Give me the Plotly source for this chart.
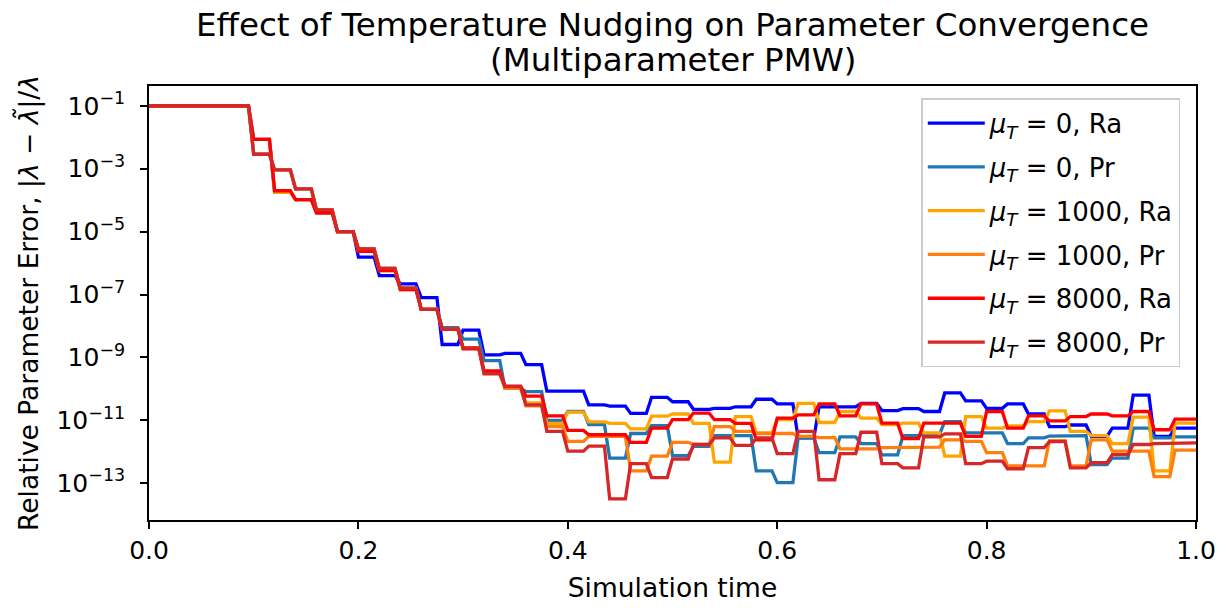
import numpy as np
import plotly.graph_objects as go

# ---- data (log10 of relative parameter error, one value per update window) ----
initial_log10 = -1.0
update_start = 0.10     # first parameter update (simulation time)
update_period = 0.02    # parameter updated every 0.02 time units
sample_dt = 0.005       # output sampling interval

mu0_ra = [-2.07, -3.75, -3.98, -4.40, -5.00, -5.81, -6.40, -6.66, -7.10, -8.59,
          -8.13, -8.92, -8.87, -9.23, -10.07, -10.07, -10.51, -10.55, -10.78, -10.27,
          -10.41, -10.65, -10.62, -10.57, -10.33, -10.48, -11.56, -10.57, -10.57, -10.46,
          -10.69, -10.63, -10.72, -10.13, -10.38, -10.62, -10.48, -10.80, -11.20, -11.15,
          -11.51, -11.25, -10.20, -11.51, -11.25]
mu0_pr = [-2.54, -3.04, -3.64, -4.31, -5.00, -5.55, -6.20, -6.80, -7.47, -8.05,
          -8.42, -9.10, -9.98, -10.09, -11.00, -10.72, -11.14, -12.20, -11.42, -11.17,
          -12.12, -11.83, -11.49, -11.49, -12.61, -12.98, -11.56, -12.03, -11.53, -11.74,
          -12.10, -11.49, -11.45, -11.04, -11.40, -11.40, -11.74, -11.56, -11.50, -11.49,
          -12.41, -12.20, -11.25, -11.56, -11.53]
mu1000_ra = [-2.07, -3.75, -3.98, -4.40, -5.00, -5.63, -6.24, -6.84, -7.47, -8.10,
             -8.70, -9.45, -9.96, -10.45, -11.10, -10.74, -11.05, -11.10, -11.27, -10.87,
             -10.80, -11.10, -12.33, -10.88, -11.40, -10.98, -10.46, -11.07, -10.72, -10.93,
             -11.14, -11.09, -11.40, -12.14, -10.88, -11.25, -11.18, -11.04, -10.70, -11.35,
             -11.49, -11.74, -10.90, -12.61, -11.09]
mu1000_pr = [-2.54, -3.04, -3.64, -4.31, -5.00, -5.55, -6.20, -6.80, -7.47, -8.10,
             -8.70, -9.50, -9.98, -10.54, -11.20, -11.67, -11.51, -11.51, -12.61, -12.14,
             -11.70, -11.77, -11.20, -11.35, -11.42, -11.42, -11.51, -11.55, -11.91, -11.91,
             -11.87, -11.85, -11.85, -11.62, -11.67, -12.03, -12.45, -12.45, -11.65, -12.45,
             -11.62, -11.98, -11.98, -12.79, -11.95]
mu8000_ra = [-2.07, -3.70, -3.98, -4.40, -5.00, -5.63, -6.24, -6.84, -7.47, -8.10,
             -8.73, -9.43, -9.91, -10.23, -10.86, -11.32, -11.46, -11.46, -11.70, -11.25,
             -10.98, -10.77, -10.98, -11.10, -11.62, -10.93, -10.83, -10.48, -10.86, -10.48,
             -11.09, -11.58, -11.09, -11.09, -11.51, -10.72, -11.25, -10.86, -11.02, -10.88,
             -10.80, -10.86, -10.72, -11.30, -10.96]
mu8000_pr = [-2.54, -3.04, -3.64, -4.31, -5.00, -5.55, -6.16, -6.80, -7.47, -8.10,
             -8.70, -9.52, -9.93, -10.51, -11.35, -11.98, -11.82, -13.50, -12.38, -12.82,
             -12.23, -11.77, -11.56, -11.80, -11.56, -12.06, -11.35, -12.89, -12.06, -11.38,
             -12.38, -12.51, -11.53, -11.43, -12.38, -12.30, -12.54, -11.87, -11.68, -12.51,
             -12.35, -12.09, -11.77, -11.74, -11.72]

series_names = ["<i>μ</i><sub><i>T</i></sub> = 0, Ra", "<i>μ</i><sub><i>T</i></sub> = 0, Pr",
                "<i>μ</i><sub><i>T</i></sub> = 1000, Ra", "<i>μ</i><sub><i>T</i></sub> = 1000, Pr",
                "<i>μ</i><sub><i>T</i></sub> = 8000, Ra", "<i>μ</i><sub><i>T</i></sub> = 8000, Pr"]
series_values = [mu0_ra, mu0_pr, mu1000_ra, mu1000_pr, mu8000_ra, mu8000_pr]
series_colors = ["#0000ff", "#1f77b4", "#ffa500", "#ff7f0e", "#ff0000", "#d62728"]

x_ticks = [0.0, 0.2, 0.4, 0.6, 0.8, 1.0]
y_tick_exps = [-1, -3, -5, -7, -9, -11, -13]
title_lines = ["Effect of Temperature Nudging on Parameter Convergence", "(Multiparameter PMW)"]

# ---- build sampled time series ----
t = np.round(np.arange(0, 1 + sample_dt / 2, sample_dt), 6)

def sampled(levels):
    out = []
    for ti in t:
        if ti < update_start - 1e-9:
            out.append(initial_log10)
        else:
            k = int(np.floor((ti - update_start) / update_period + 1e-6))
            k = min(k, len(levels) - 1)
            out.append(levels[k])
    return 10 ** np.array(out)

fig = go.Figure()
for name, vals, col in zip(series_names, series_values, series_colors):
    fig.add_trace(go.Scatter(x=t, y=sampled(vals), mode="lines", name=name,
                             legendgroup=name,
                             line=dict(color=col, width=3.3)))

font_family = "DejaVu Sans, Verdana, sans-serif"
L, R, T, B = 149, 1196, 86, 523
H = B - T

def ypaper(py):
    return (B - py) / H

for line, py in zip(title_lines, [25, 60]):
    fig.add_annotation(text=line, xref="paper", yref="paper", x=0.5, y=ypaper(py),
                       xanchor="center", yanchor="middle", showarrow=False,
                       font=dict(size=32.5, family=font_family, color="black"))

fig.update_layout(
    width=1228, height=610,
    margin=dict(l=L, r=1228 - R, t=T, b=610 - B),
    paper_bgcolor="white", plot_bgcolor="white",
    font=dict(family=font_family, size=22, color="black"),
    showlegend=True,
    legend=dict(x=0.985, xanchor="right", y=0.972, yanchor="top",
                bgcolor="white", bordercolor="#cccccc", borderwidth=1.5,
                font=dict(size=26, family=font_family), tracegroupgap=7, itemwidth=57),
)
fig.update_xaxes(range=[0, 1], tickvals=x_ticks, ticktext=[f"{v:.1f}" for v in x_ticks],
                 tickfont=dict(size=25, family=font_family),
                 showline=True, linecolor="black", linewidth=1.6, mirror=True,
                 ticks="outside", ticklen=7, tickwidth=1.6, tickcolor="black",
                 showgrid=False, zeroline=False,
                 title=dict(text="Simulation time", standoff=15,
                            font=dict(size=26.5, family=font_family)))
fig.update_yaxes(type="log", range=[-14.17, -0.37],
                 tickvals=[10.0 ** e for e in y_tick_exps],
                 ticktext=[f"10<sup>−{abs(e)}</sup>" for e in y_tick_exps],
                 tickfont=dict(size=25, family=font_family), ticklabelstandoff=10,
                 showline=True, linecolor="black", linewidth=1.6, mirror=True,
                 ticks="outside", ticklen=7, tickwidth=1.6, tickcolor="black",
                 showgrid=False, zeroline=False,
                 title=dict(text="Relative Parameter Error, |<i>λ</i> − <i>λ̃</i>|/<i>λ</i>",
                            standoff=10, font=dict(size=26.5, family=font_family)))

fig.write_html("out.html")
